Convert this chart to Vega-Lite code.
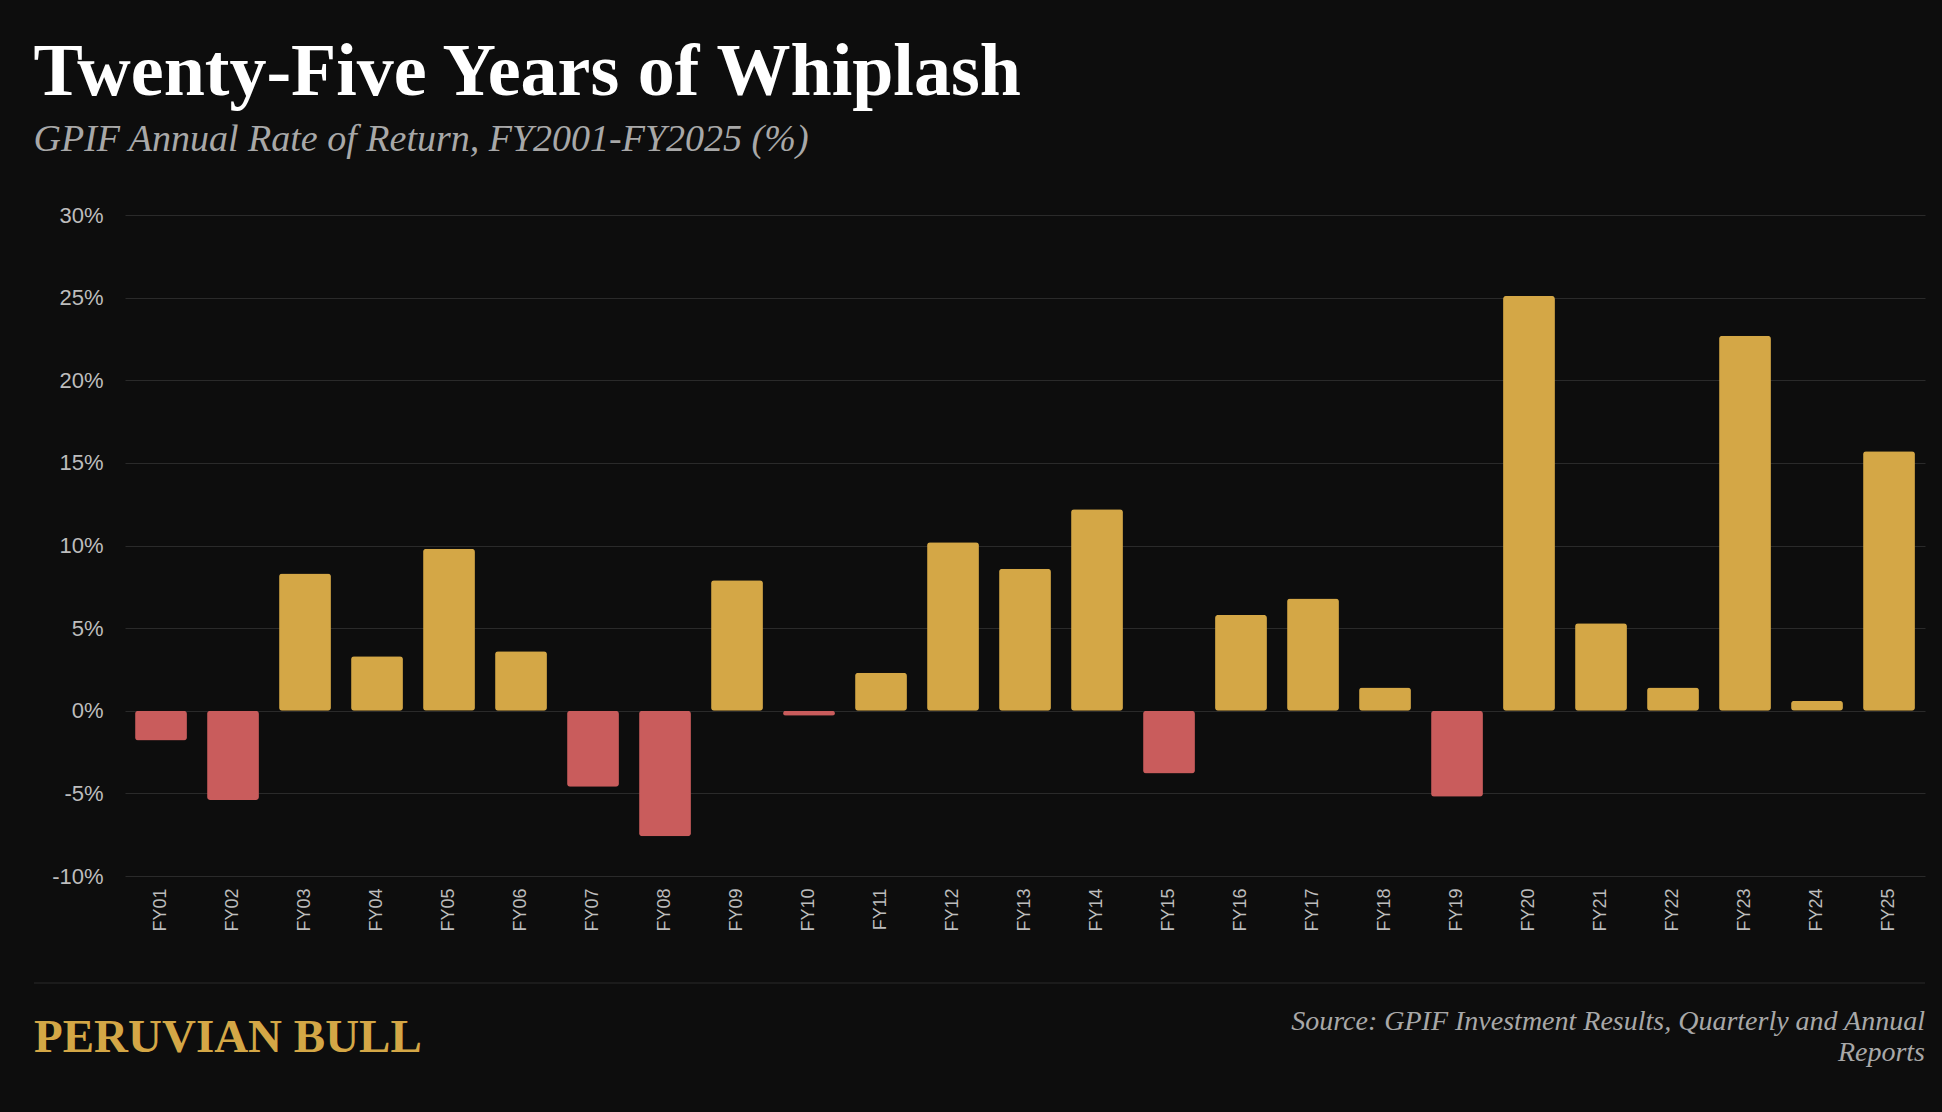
{
  "$schema": "https://vega.github.io/schema/vega-lite/v6.json",
  "background": "#0d0d0d",
  "padding": {"left": 33, "right": 16, "top": 36, "bottom": 25},
  "config": {
    "view": {"stroke": null},
    "axis": {"labelFont": "Liberation Sans", "labelColor": "#bdbdbd"}
  },
  "title": {
    "text": "Twenty-Five Years of Whiplash",
    "subtitle": "GPIF Annual Rate of Return, FY2001-FY2025 (%)",
    "anchor": "start",
    "font": "Liberation Serif",
    "fontSize": 74,
    "fontWeight": "bold",
    "color": "#ffffff",
    "subtitleFont": "Liberation Serif",
    "subtitleFontStyle": "italic",
    "subtitleFontSize": 38,
    "subtitleColor": "#a8a8a8",
    "subtitlePadding": 10,
    "offset": 44
  },
  "vconcat": [
    {
      "width": 1800,
      "height": 661,
      "data": {
        "values": [
          {"fy": "FY01", "ret": -1.8}, {"fy": "FY02", "ret": -5.4},
          {"fy": "FY03", "ret": 8.3}, {"fy": "FY04", "ret": 3.3},
          {"fy": "FY05", "ret": 9.8}, {"fy": "FY06", "ret": 3.6},
          {"fy": "FY07", "ret": -4.6}, {"fy": "FY08", "ret": -7.6},
          {"fy": "FY09", "ret": 7.9}, {"fy": "FY10", "ret": -0.3},
          {"fy": "FY11", "ret": 2.3}, {"fy": "FY12", "ret": 10.2},
          {"fy": "FY13", "ret": 8.6}, {"fy": "FY14", "ret": 12.2},
          {"fy": "FY15", "ret": -3.8}, {"fy": "FY16", "ret": 5.8},
          {"fy": "FY17", "ret": 6.8}, {"fy": "FY18", "ret": 1.4},
          {"fy": "FY19", "ret": -5.2}, {"fy": "FY20", "ret": 25.1},
          {"fy": "FY21", "ret": 5.3}, {"fy": "FY22", "ret": 1.4},
          {"fy": "FY23", "ret": 22.7}, {"fy": "FY24", "ret": 0.6},
          {"fy": "FY25", "ret": 15.7}
        ]
      },
      "mark": {"type": "bar", "cornerRadius": 3},
      "encoding": {
        "x": {
          "field": "fy", "type": "ordinal", "title": null,
          "scale": {"paddingInner": 0.28, "paddingOuter": 0.14},
          "axis": {"labelAngle": -90, "labelFontSize": 18, "ticks": false, "domain": false, "labelPadding": 12}
        },
        "y": {
          "field": "ret", "type": "quantitative", "title": null,
          "scale": {"domain": [-10, 30], "nice": false},
          "axis": {"values": [-10, -5, 0, 5, 10, 15, 20, 25, 30], "labelExpr": "datum.value + '%'",
                   "labelFontSize": 22, "gridColor": "#2a2a2a", "domain": false, "ticks": false, "labelPadding": 22}
        },
        "color": {
          "condition": {"test": "datum.ret < 0", "value": "#c95c5c"},
          "value": "#d4a746"
        }
      }
    },
    {
      "width": 1800,
      "height": 110,
      "data": {"values": [{"brand": "PERUVIAN BULL", "source": ["Source: GPIF Investment Results, Quarterly and Annual", "Reports"]}]},
      "layer": [
        {"mark": {"type": "rule", "color": "#2a2a2a"}, "encoding": {"x": {"value": -91}, "x2": {"value": 1800}, "y": {"value": 0}}},
        {"mark": {"type": "text", "align": "left", "baseline": "middle", "font": "Liberation Serif", "fontWeight": "bold", "fontSize": 47, "color": "#d4a746"},
         "encoding": {"text": {"field": "brand"}, "x": {"value": -91}, "y": {"value": 55}}},
        {"mark": {"type": "text", "align": "right", "baseline": "middle", "font": "Liberation Serif", "fontStyle": "italic", "fontSize": 28, "color": "#a8a8a8", "lineHeight": 31},
         "encoding": {"text": {"field": "source"}, "x": {"value": 1800}, "y": {"value": 39}}}
      ]
    }
  ],
  "spacing": 50
}
